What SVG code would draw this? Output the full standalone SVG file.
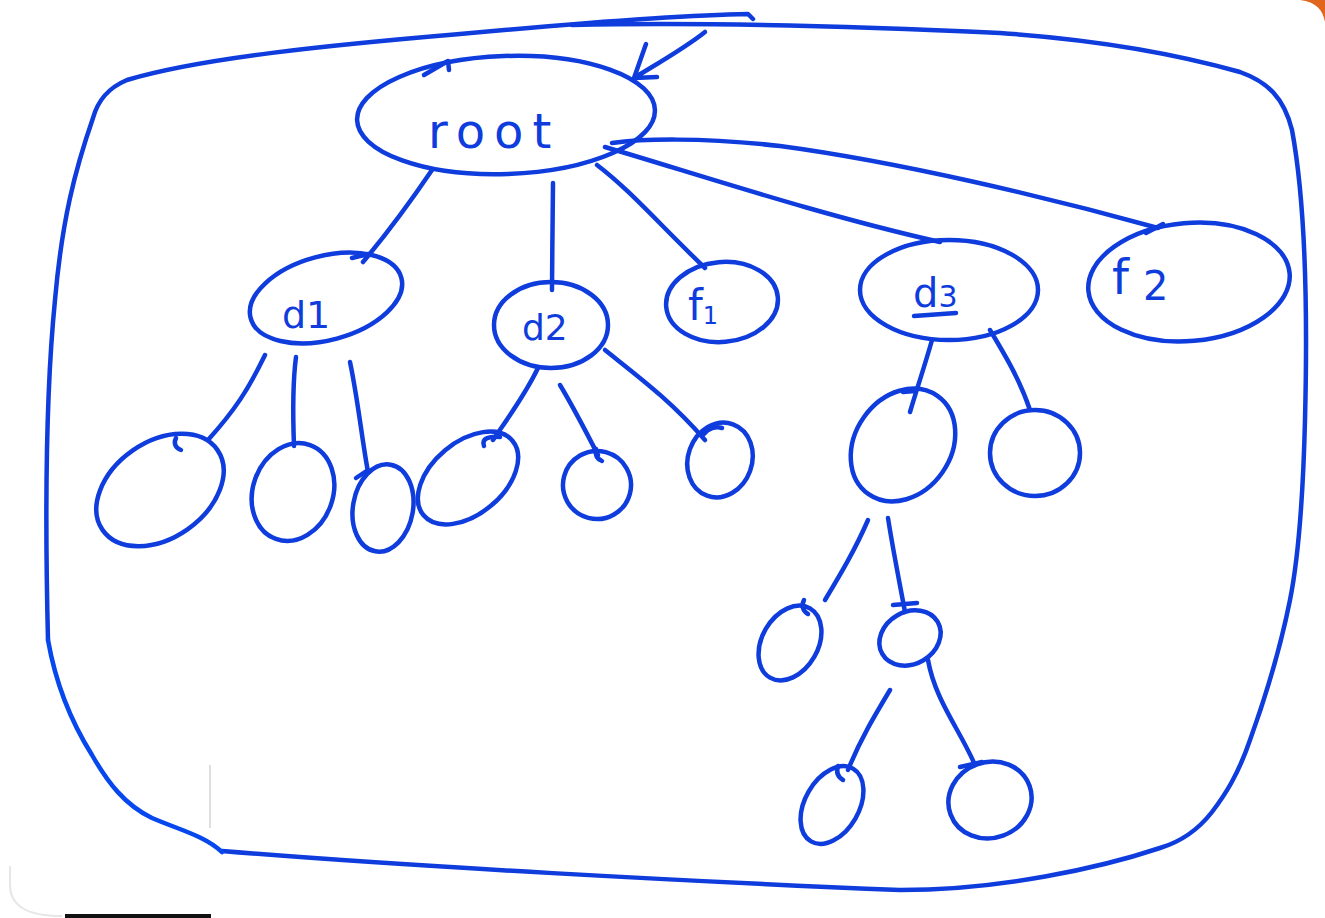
<svg xmlns="http://www.w3.org/2000/svg" width="1325" height="918" viewBox="0 0 1325 918">
  <style>
    .ink{fill:none;stroke:#0f3cdc;stroke-width:4.5;stroke-linecap:round;stroke-linejoin:round}
    .ink2{fill:none;stroke:#0648ee;stroke-width:4.5;stroke-linecap:round;stroke-linejoin:round}
    .lbl{fill:#0f3cdc;font-family:"DejaVu Sans",sans-serif}
  </style>

  <rect width="1325" height="918" fill="#ffffff"/>

  <!-- page edge details -->
  <path d="M1300,0 H1325 V22 C1323,10 1316,2 1300,0 Z" fill="#e0661e"/>
  <path d="M10,866 V885 C10,905 25,916 62,916" fill="none" stroke="#e6e6e6" stroke-width="2"/>
  <line x1="210" y1="765" x2="210" y2="828" stroke="#d4d4d4" stroke-width="1.5"/>
  <rect x="65" y="914" width="146" height="4" fill="#111111"/>

  <!-- outer boundary -->
  <g id="frame">
    <path class="ink" d="M48,640 C45,520 45,400 55,300 C62,220 75,170 93,118 C98,100 108,88 127,80 C200,58 330,45 460,34 C580,23 680,15 748,14 L753,19"/>
    <path class="ink" d="M572,25 C700,22 850,26 1000,33 C1100,40 1180,55 1240,72 C1268,82 1284,98 1292,130 C1305,200 1308,300 1305,420 C1303,500 1298,560 1290,600 C1280,650 1268,690 1250,740 C1238,775 1225,795 1212,812 C1198,830 1180,842 1160,848 C1100,868 1000,890 900,890 C700,882 400,866 222,851"/>
    <path class="ink2" d="M48,640 C55,680 70,720 92,755 C108,783 125,805 152,818 C180,830 205,836 222,852"/>
  </g>

  <!-- connectors -->
  <g id="connectors" class="ink">
    <path d="M705,32 C685,48 660,62 634,78 M634,78 L646,44 M634,78 L657,77"/>
    <path d="M432,170 C415,195 390,230 363,262 M352,258 L368,254"/>
    <path d="M553,183 C553,215 552,255 552,290"/>
    <path d="M597,165 C630,190 660,225 705,268"/>
    <path d="M605,147 C700,175 820,215 940,242"/>
    <path d="M612,143 C640,139 700,137 780,146 C900,162 1050,198 1158,228 M1146,233 L1163,224"/>
    <path d="M265,355 C248,390 235,410 208,440"/>
    <path d="M296,357 C293,380 293,420 294,446"/>
    <path d="M350,362 C358,400 362,440 368,472"/>
    <path d="M538,368 C525,395 510,415 493,440"/>
    <path d="M560,385 C575,410 585,430 598,455"/>
    <path d="M605,350 C640,378 670,400 705,440"/>
    <path d="M932,340 C925,365 918,385 910,412"/>
    <path d="M990,330 C1005,355 1020,380 1030,410"/>
    <path d="M868,520 C855,550 840,575 825,600"/>
    <path d="M888,518 C893,550 900,585 905,612"/>
    <path d="M890,690 C875,715 860,740 848,770"/>
    <path d="M928,660 C935,700 960,730 975,765"/>
  </g>

  <!-- directory tree nodes -->
  <g id="node-root">
    <ellipse class="ink" cx="506" cy="115" rx="149" ry="59" transform="rotate(-2 506 115)"/>
    <path class="ink" d="M424,75 L448,61 L449,70"/>
    <text class="lbl" x="428" y="148" font-size="48" letter-spacing="9">root</text>
  </g>
  <g id="node-d1">
    <ellipse class="ink" cx="326" cy="298" rx="78" ry="42" transform="rotate(-15 326 298)"/>
    <text class="lbl" x="282" y="328" font-size="38">d1</text>
  </g>
  <g id="node-d2">
    <ellipse class="ink" cx="551" cy="325" rx="57" ry="43"/>
    <text class="lbl" x="522" y="340" font-size="36">d2</text>
  </g>
  <g id="node-f1">
    <ellipse class="ink" cx="722" cy="302" rx="56" ry="40" transform="rotate(-5 722 302)"/>
    <text class="lbl" x="688" y="320" font-size="42">f<tspan font-size="24" dy="4">1</tspan></text>
  </g>
  <g id="node-d3">
    <ellipse class="ink" cx="949" cy="290" rx="89" ry="50"/>
    <text class="lbl" x="913" y="307" font-size="40">d<tspan font-size="30">3</tspan></text>
    <path class="ink" d="M914,316 L956,313"/>
  </g>
  <g id="node-f2">
    <ellipse class="ink" cx="1189" cy="282" rx="101" ry="59" transform="rotate(-5 1189 282)"/>
    <text class="lbl" x="1112" y="294" font-size="48">f<tspan font-size="40" dx="14" dy="6">2</tspan></text>
  </g>

  <g id="node-a">
    <ellipse class="ink" cx="160" cy="490" rx="70" ry="48" transform="rotate(-35 160 490)"/>
    <path class="ink" d="M176,438 C173,444 176,448 181,450"/>
  </g>
  <g id="node-b"><ellipse class="ink" cx="293" cy="492" rx="40" ry="50" transform="rotate(20 293 492)"/></g>
  <g id="node-c">
    <ellipse class="ink" cx="383" cy="508" rx="30" ry="44" transform="rotate(10 383 508)"/>
    <path class="ink" d="M356,478 L368,470"/>
  </g>
  <g id="node-d">
    <ellipse class="ink" cx="468" cy="478" rx="58" ry="36" transform="rotate(-40 468 478)"/>
    <path class="ink" d="M484,446 C481,438 490,436 500,437"/>
  </g>
  <g id="node-e">
    <ellipse class="ink" cx="597" cy="485" rx="34" ry="34" transform="rotate(-30 597 485)"/>
    <path class="ink" d="M596,449 C595,455 597,459 602,461"/>
  </g>
  <g id="node-f">
    <ellipse class="ink" cx="720" cy="460" rx="32" ry="38" transform="rotate(20 720 460)"/>
    <path class="ink" d="M704,434 C708,428 716,426 722,428"/>
  </g>
  <g id="node-g">
    <ellipse class="ink" cx="903" cy="445" rx="60" ry="48" transform="rotate(-55 903 445)"/>
    <path class="ink" d="M903,392 L915,391"/>
  </g>
  <g id="node-h"><ellipse class="ink" cx="1035" cy="453" rx="45" ry="43"/></g>
  <g id="node-i">
    <ellipse class="ink" cx="790" cy="643" rx="28" ry="40" transform="rotate(30 790 643)"/>
    <path class="ink" d="M804,600 C801,606 803,611 808,614"/>
  </g>
  <g id="node-j">
    <ellipse class="ink" cx="910" cy="638" rx="32" ry="26" transform="rotate(-30 910 638)"/>
    <path class="ink" d="M893,605 L917,603"/>
  </g>
  <g id="node-k">
    <ellipse class="ink" cx="832" cy="805" rx="27" ry="42" transform="rotate(30 832 805)"/>
    <path class="ink" d="M838,766 C836,772 838,777 843,780"/>
  </g>
  <g id="node-l">
    <ellipse class="ink" cx="990" cy="800" rx="42" ry="38" transform="rotate(-20 990 800)"/>
    <path class="ink" d="M960,767 L982,762"/>
  </g>
</svg>
